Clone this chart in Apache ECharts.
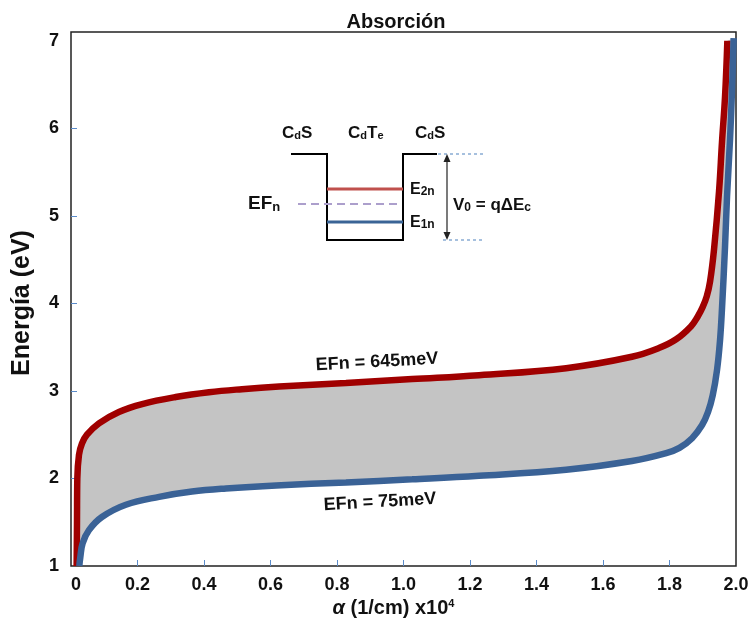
<!DOCTYPE html>
<html>
<head>
<meta charset="utf-8">
<script src="https://cdn.jsdelivr.net/npm/echarts@6/dist/echarts.min.js"></script>
<style>
  html, body { margin: 0; padding: 0; background: #fff; }
  #chart { width: 756px; height: 632px; }
</style>
</head>
<body>
<div id="chart"></div>
<script>
// Axis ticks and labels
const xLabelValues = [0, 0.2, 0.4, 0.6, 0.8, 1.0, 1.2, 1.4, 1.6, 1.8, 2.0];
const xTickValues = [0.2, 0.4, 0.6, 0.8, 1.0, 1.2, 1.4, 1.6, 1.8];
const yLabelValues = [1, 2, 3, 4, 5, 6, 7];
const yTickValues = [2, 3, 4, 5, 6];

// Absorption curves: [alpha (x10^4 1/cm), energy (eV)]
const curve645meV = [
  [0.017, 1.0], [0.018, 1.5], [0.019, 2.0], [0.024, 2.27], [0.033, 2.4],
  [0.048, 2.5], [0.084, 2.63], [0.144, 2.76], [0.214, 2.85], [0.315, 2.93],
  [0.415, 2.985], [0.514, 3.02], [0.626, 3.05], [0.827, 3.09], [1.026, 3.135],
  [1.227, 3.18], [1.489, 3.26], [1.687, 3.39], [1.768, 3.49], [1.82, 3.59],
  [1.865, 3.74], [1.885, 3.85], [1.90, 3.96], [1.912, 4.08], [1.922, 4.25],
  [1.934, 4.62], [1.949, 5.28], [1.958, 5.85], [1.967, 6.36], [1.974, 7.0]
];
const curve75meV = [
  [0.025, 1.0], [0.028, 1.1], [0.035, 1.26], [0.054, 1.41], [0.093, 1.56],
  [0.165, 1.70], [0.265, 1.79], [0.364, 1.85], [0.466, 1.885], [0.617, 1.92],
  [0.827, 1.955], [1.026, 1.99], [1.227, 2.03], [1.489, 2.10], [1.687, 2.20],
  [1.79, 2.29], [1.83, 2.35], [1.868, 2.46], [1.898, 2.61], [1.916, 2.76],
  [1.93, 2.95], [1.943, 3.24], [1.952, 3.58], [1.958, 3.95], [1.967, 4.65],
  [1.973, 5.22], [1.982, 5.87], [1.988, 6.44], [1.993, 7.03]
];

const FONT = 'Liberation Sans, Arial, sans-serif';
const RED = '#A00000';
const BLUE = '#3A6296';
const TICK = '#5B8BC9';

const chart = echarts.init(document.getElementById('chart'), null, { renderer: 'canvas' });

// quantum well sketch (CdS / CdTe / CdS)
const big = (s) => ({ fontSize: s, fontWeight: 'bold', fontFamily: FONT, fill: '#111', verticalAlign: 'bottom' });
const sub = (s) => ({ fontSize: s, fontWeight: 'bold', fontFamily: FONT, fill: '#111', verticalAlign: 'bottom' });

function richText(x, y, text, bs, ss) {
  return {
    type: 'text', x: x, y: y, silent: true,
    style: {
      text: text, x: 0, y: 0, textAlign: 'left', textVerticalAlign: 'middle',
      rich: { b: big(bs), s: sub(ss) }
    }
  };
}

const inset = [
  { type: 'polyline', silent: true,
    shape: { points: [[291, 154], [327, 154], [327, 240], [403, 240], [403, 154], [437, 154]] },
    style: { stroke: '#000', lineWidth: 2, fill: null } },
  { type: 'line', silent: true, shape: { x1: 438, y1: 154, x2: 483, y2: 154 },
    style: { stroke: '#4F81BD', lineWidth: 1, lineDash: [3, 3] } },
  { type: 'line', silent: true, shape: { x1: 443, y1: 240, x2: 483, y2: 240 },
    style: { stroke: '#4F81BD', lineWidth: 1, lineDash: [3, 3] } },
  { type: 'line', silent: true, shape: { x1: 327, y1: 189, x2: 403, y2: 189 },
    style: { stroke: '#C0504D', lineWidth: 3 } },
  { type: 'line', silent: true, shape: { x1: 327, y1: 222, x2: 403, y2: 222 },
    style: { stroke: '#3A6496', lineWidth: 3 } },
  { type: 'line', silent: true, shape: { x1: 298, y1: 204, x2: 402, y2: 204 },
    style: { stroke: '#AC9FCC', lineWidth: 2, lineDash: [8, 5] } },
  { type: 'line', silent: true, shape: { x1: 447, y1: 160, x2: 447, y2: 234 },
    style: { stroke: '#222', lineWidth: 1.2 } },
  { type: 'polygon', silent: true, shape: { points: [[447, 154], [443.5, 162], [450.5, 162]] },
    style: { fill: '#222' } },
  { type: 'polygon', silent: true, shape: { points: [[447, 240], [443.5, 232], [450.5, 232]] },
    style: { fill: '#222' } },
  richText(282, 133, '{b|C}{s|d}{b|S}', 17, 11),
  richText(348, 133, '{b|C}{s|d}{b|T}{s|e}', 17, 11),
  richText(415, 133, '{b|C}{s|d}{b|S}', 17, 11),
  richText(248, 204, '{b|EF}{s|n}', 19, 13),
  richText(410, 190, '{b|E}{s|2n}', 16, 12),
  richText(410, 223, '{b|E}{s|1n}', 16, 12),
  richText(453, 205, '{b|V}{s|0}{b| = q\u0394E}{s|c}', 17, 12)
];

// curve annotations
const curveLabels = [
  { type: 'text', x: 377, y: 362, rotation: 0.055, silent: true,
    style: { text: 'EFn = 645meV', x: 0, y: 0, textAlign: 'center', textVerticalAlign: 'middle',
      font: 'bold 18px ' + FONT, fill: '#111' } },
  { type: 'text', x: 380, y: 502, rotation: 0.058, silent: true,
    style: { text: 'EFn = 75meV', x: 0, y: 0, textAlign: 'center', textVerticalAlign: 'middle',
      font: 'bold 18px ' + FONT, fill: '#111' } }
];

const option = {
  animation: false,
  backgroundColor: '#fff',
  title: {
    text: 'Absorción',
    left: 391, top: 7, textAlign: 'center',
    textStyle: { fontFamily: FONT, fontSize: 20, fontWeight: 'bold', color: '#111' }
  },
  grid: {
    left: 71, right: 20, top: 32, bottom: 66,
    show: true, borderColor: '#222', borderWidth: 1.5, backgroundColor: 'transparent'
  },
  xAxis: {
    type: 'value', min: 0, max: 2,
    name: '{i|\u03b1} (1/cm) x10{sup|4}',
    nameLocation: 'middle', nameGap: 30,
    nameTextStyle: {
      fontFamily: FONT, fontSize: 20, fontWeight: 'bold', color: '#111', padding: [0, 20, 0, 0],
      rich: {
        i: { fontFamily: FONT, fontSize: 20, fontWeight: 'bold', fontStyle: 'italic', color: '#111' },
        sup: { fontFamily: FONT, fontSize: 11, fontWeight: 'bold', color: '#111', verticalAlign: 'top', padding: [0, 0, 8, 0] }
      }
    },
    axisLine: { show: false },
    splitLine: { show: false },
    axisTick: { show: true, inside: true, length: 6, customValues: xTickValues,
      lineStyle: { color: TICK, width: 1 } },
    axisLabel: {
      customValues: xLabelValues, margin: 10, alignMinLabel: 'left',
      fontFamily: FONT, fontSize: 18, fontWeight: 'bold', color: '#111',
      formatter: (v) => (v === 0 ? '0' : v.toFixed(1))
    }
  },
  yAxis: {
    type: 'value', min: 1, max: 7.1,
    name: 'Energía (eV)',
    nameLocation: 'middle', nameGap: 36, nameRotate: 90,
    nameTextStyle: { fontFamily: FONT, fontSize: 25, fontWeight: 'bold', color: '#111', padding: [0, 8, 0, 0] },
    axisLine: { show: false },
    splitLine: { show: false },
    axisTick: { show: true, inside: true, length: 6, customValues: yTickValues,
      lineStyle: { color: TICK, width: 1 } },
    axisLabel: {
      customValues: yLabelValues, margin: 12,
      fontFamily: FONT, fontSize: 18, fontWeight: 'bold', color: '#111',
      formatter: (v) => String(v)
    }
  },
  series: [
    {
      // shaded band between the two curves
      type: 'custom', coordinateSystem: 'cartesian2d', data: [[0, 1]], clip: true, silent: true, z: 1,
      renderItem: (params, api) => {
        const ring = curve645meV.concat(curve75meV.slice().reverse());
        return {
          type: 'polygon',
          shape: { points: ring.map((p) => api.coord(p)) },
          style: { fill: '#C4C4C4', stroke: null }
        };
      }
    },
    {
      name: 'EFn = 645meV', type: 'line', data: curve645meV, z: 3,
      showSymbol: false, smooth: 0.4, clip: true,
      lineStyle: { color: RED, width: 6.5, cap: 'butt' }
    },
    {
      name: 'EFn = 75meV', type: 'line', data: curve75meV, z: 4,
      showSymbol: false, smooth: 0.4, clip: true,
      lineStyle: { color: BLUE, width: 6.5, cap: 'butt' }
    }
  ],
  graphic: { elements: inset.concat(curveLabels) }
};

chart.setOption(option);
</script>
</body>
</html>
